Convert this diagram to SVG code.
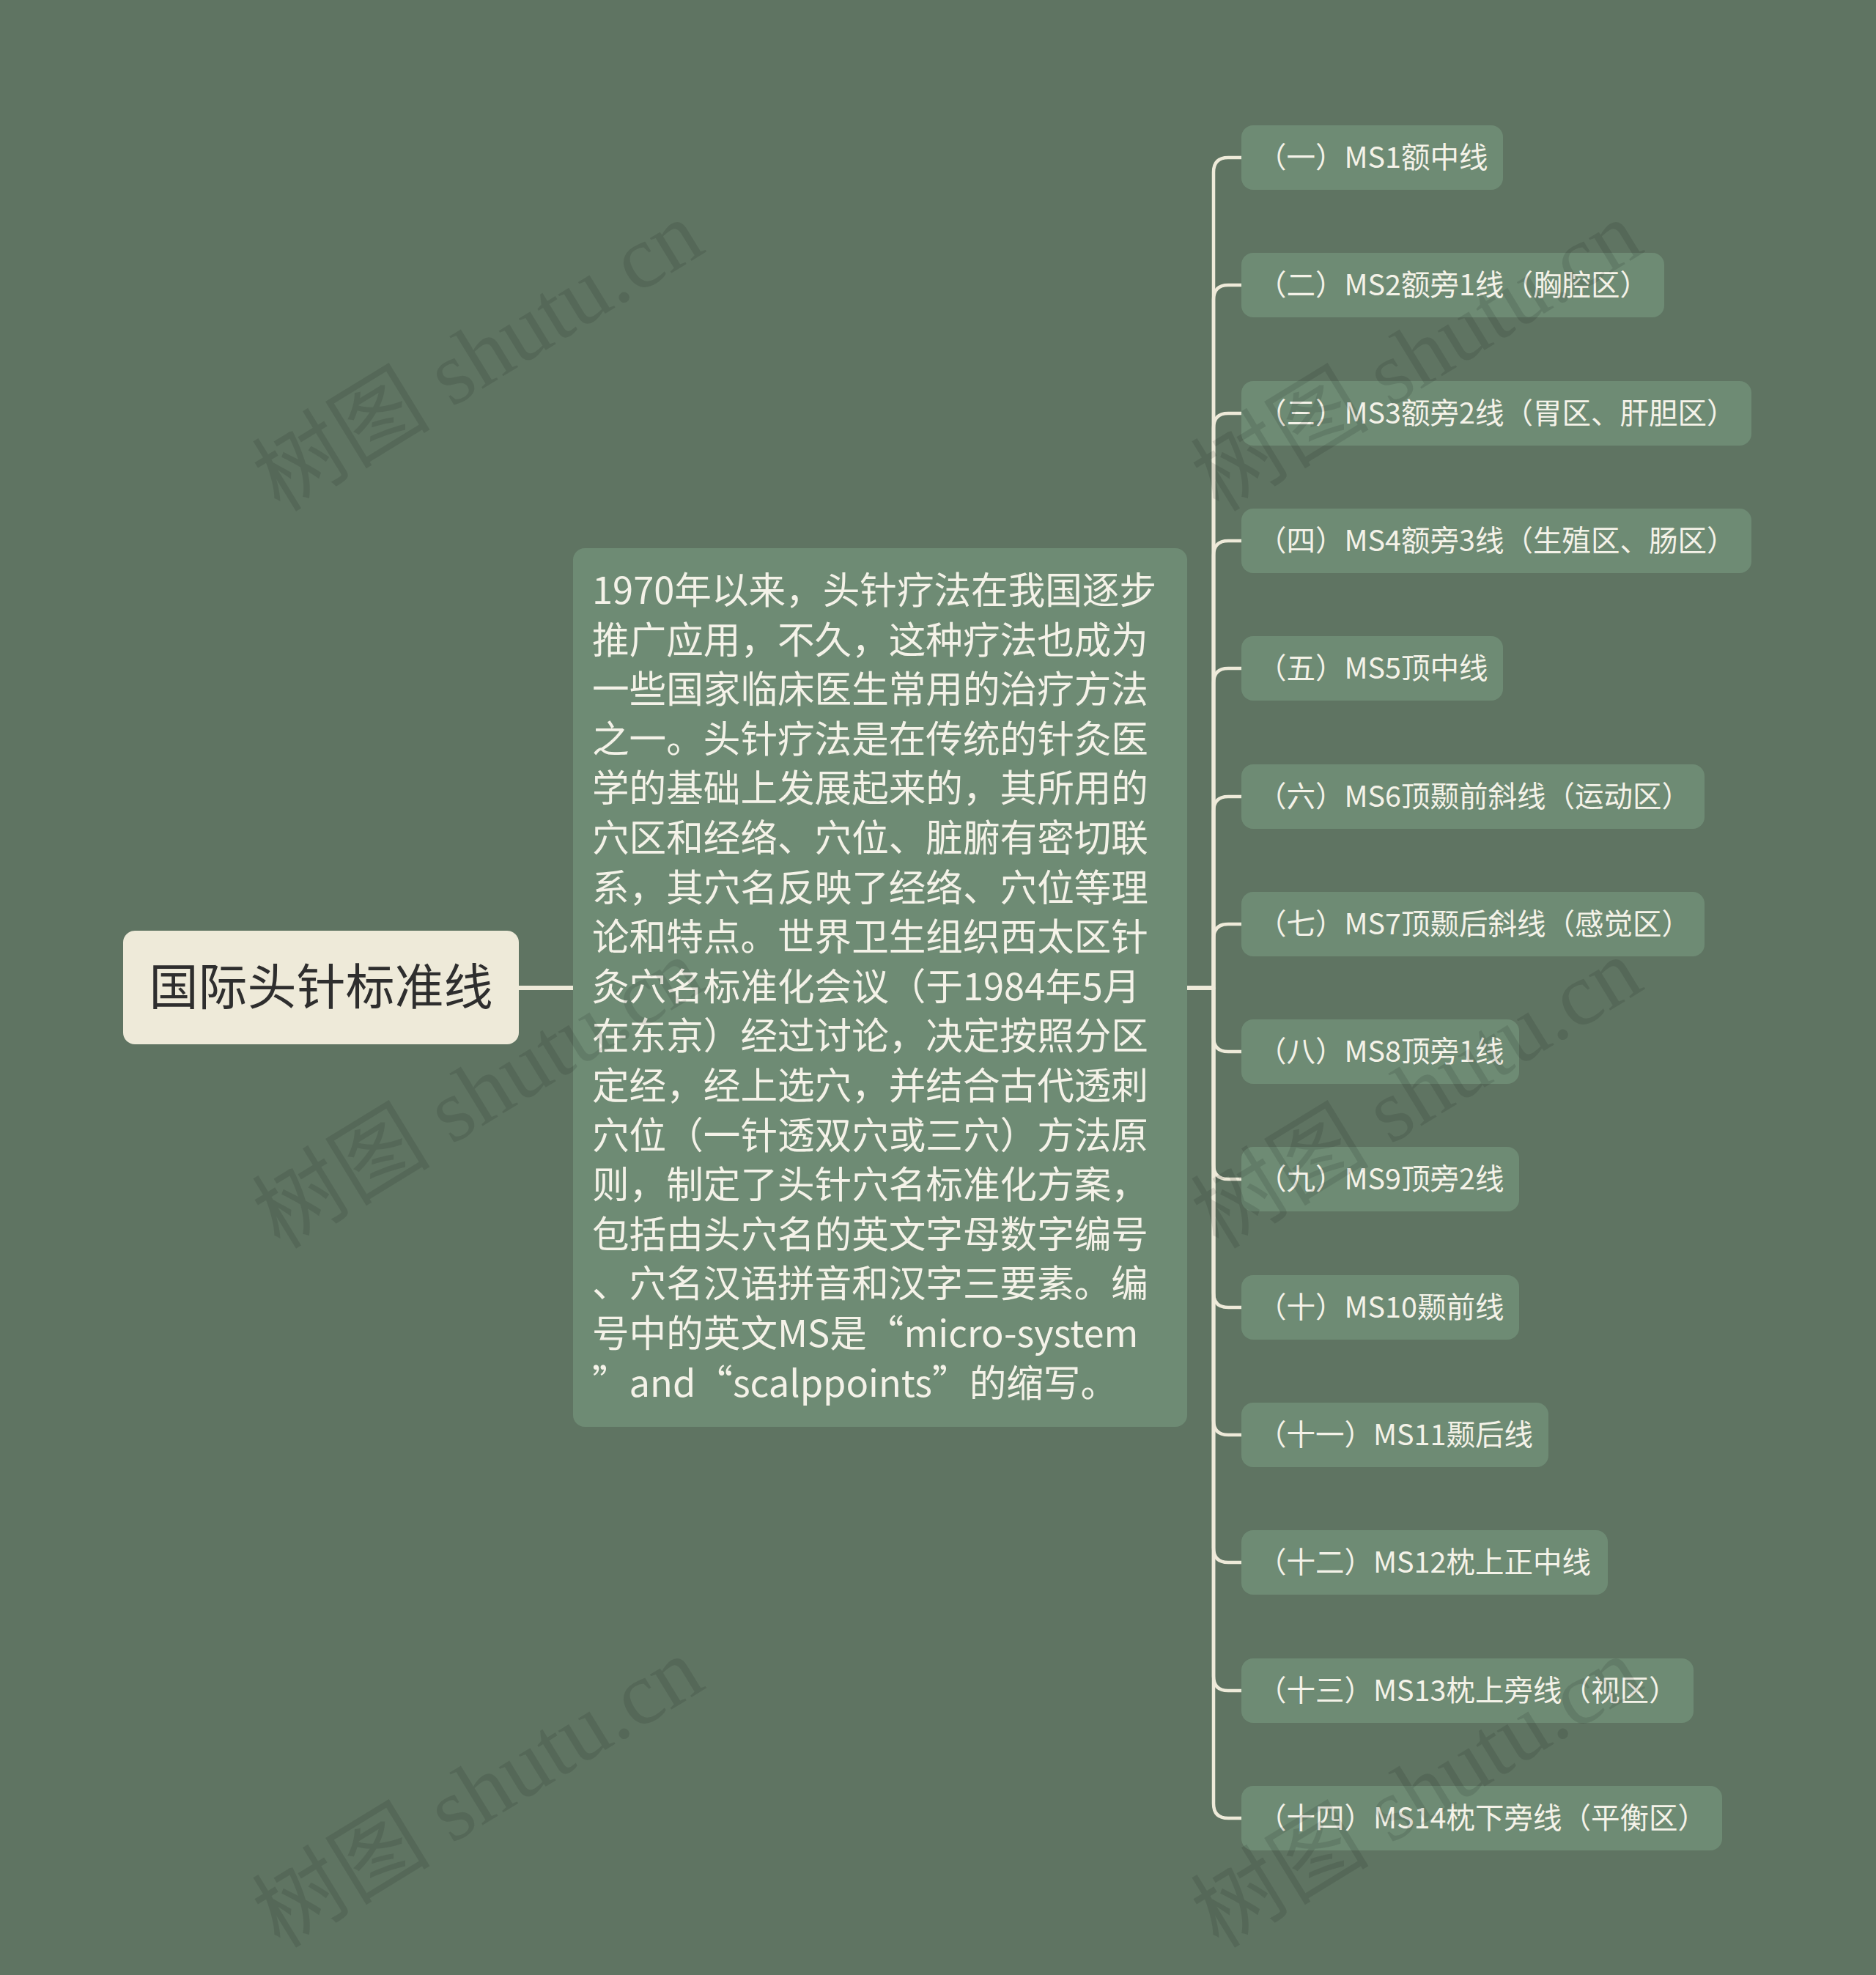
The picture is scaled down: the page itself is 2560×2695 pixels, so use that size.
<svg xmlns="http://www.w3.org/2000/svg" width="2560" height="2695" viewBox="0 0 2560 2695">
<style>
.bg{fill:#5f7462}
.node{fill:#6e8b74}
.root{fill:#eeead9}
.conn{fill:none;stroke:#eeead9;stroke-width:4.5;stroke-linecap:round;stroke-linejoin:round}
.t{font-family:"Noto Sans CJK SC","Noto Sans",sans-serif;fill:#f4f2e8}
.ct{font-size:50.6px}
.kt{font-size:39.5px}
.rt{font-family:"Noto Sans CJK SC","Noto Sans",sans-serif;font-size:67px;fill:#2e2e2e;text-anchor:middle}
.wm{font-family:"Liberation Serif","Noto Sans CJK SC",serif;font-size:122px;fill:#000;fill-opacity:0.1}
</style>
<rect class="bg" x="0" y="0" width="2560" height="2695"/>
<g id="connectors">
<path class="conn" style="stroke-width:6" d="M708 1348 H782"/>
<path class="conn" d="M1620 1348 H1656 V235 Q1656 215 1676 215 H1694"/>
<path class="conn" d="M1620 1348 H1656 V409 Q1656 389 1676 389 H1694"/>
<path class="conn" d="M1620 1348 H1656 V584 Q1656 564 1676 564 H1694"/>
<path class="conn" d="M1620 1348 H1656 V758 Q1656 738 1676 738 H1694"/>
<path class="conn" d="M1620 1348 H1656 V932 Q1656 912 1676 912 H1694"/>
<path class="conn" d="M1620 1348 H1656 V1107 Q1656 1087 1676 1087 H1694"/>
<path class="conn" d="M1620 1348 H1656 V1281 Q1656 1261 1676 1261 H1694"/>
<path class="conn" d="M1620 1348 H1656 V1415 Q1656 1435 1676 1435 H1694"/>
<path class="conn" d="M1620 1348 H1656 V1589 Q1656 1609 1676 1609 H1694"/>
<path class="conn" d="M1620 1348 H1656 V1764 Q1656 1784 1676 1784 H1694"/>
<path class="conn" d="M1620 1348 H1656 V1938 Q1656 1958 1676 1958 H1694"/>
<path class="conn" d="M1620 1348 H1656 V2112 Q1656 2132 1676 2132 H1694"/>
<path class="conn" d="M1620 1348 H1656 V2287 Q1656 2307 1676 2307 H1694"/>
<path class="conn" d="M1620 1348 H1656 V2461 Q1656 2481 1676 2481 H1694"/>
</g>
<g id="root">
<rect class="root" x="168" y="1270" width="540" height="155" rx="16"/>
<text class="rt" x="438" y="1371">国际头针标准线</text>
</g>
<g id="center">
<rect class="node" x="782" y="748" width="838" height="1199" rx="16"/>
<text class="t ct">
<tspan x="808" y="824">1970年以来，头针疗法在我国逐步</tspan>
<tspan x="808" y="891.6">推广应用，不久，这种疗法也成为</tspan>
<tspan x="808" y="959.2">一些国家临床医生常用的治疗方法</tspan>
<tspan x="808" y="1026.8">之一。头针疗法是在传统的针灸医</tspan>
<tspan x="808" y="1094.4">学的基础上发展起来的，其所用的</tspan>
<tspan x="808" y="1162">穴区和经络、穴位、脏腑有密切联</tspan>
<tspan x="808" y="1229.6">系，其穴名反映了经络、穴位等理</tspan>
<tspan x="808" y="1297.2">论和特点。世界卫生组织西太区针</tspan>
<tspan x="808" y="1364.8">灸穴名标准化会议（于1984年5月</tspan>
<tspan x="808" y="1432.4">在东京）经过讨论，决定按照分区</tspan>
<tspan x="808" y="1500">定经，经上选穴，并结合古代透刺</tspan>
<tspan x="808" y="1567.6">穴位（一针透双穴或三穴）方法原</tspan>
<tspan x="808" y="1635.2">则，制定了头针穴名标准化方案，</tspan>
<tspan x="808" y="1702.8">包括由头穴名的英文字母数字编号</tspan>
<tspan x="808" y="1770.4">、穴名汉语拼音和汉字三要素。编</tspan>
<tspan x="808" y="1838">号中的英文MS是“micro-system</tspan>
<tspan x="808" y="1905.6">”and“scalppoints”的缩写。</tspan>
</text>
</g>
<g id="c1"><rect class="node" x="1694" y="171" width="357" height="88" rx="16"/><text class="t kt" x="1716" y="229">（一）MS1额中线</text></g>
<g id="c2"><rect class="node" x="1694" y="345" width="577" height="88" rx="16"/><text class="t kt" x="1716" y="403">（二）MS2额旁1线（胸腔区）</text></g>
<g id="c3"><rect class="node" x="1694" y="520" width="696" height="88" rx="16"/><text class="t kt" x="1716" y="578">（三）MS3额旁2线（胃区、肝胆区）</text></g>
<g id="c4"><rect class="node" x="1694" y="694" width="696" height="88" rx="16"/><text class="t kt" x="1716" y="752">（四）MS4额旁3线（生殖区、肠区）</text></g>
<g id="c5"><rect class="node" x="1694" y="868" width="357" height="88" rx="16"/><text class="t kt" x="1716" y="926">（五）MS5顶中线</text></g>
<g id="c6"><rect class="node" x="1694" y="1043" width="632" height="88" rx="16"/><text class="t kt" x="1716" y="1101">（六）MS6顶颞前斜线（运动区）</text></g>
<g id="c7"><rect class="node" x="1694" y="1217" width="632" height="88" rx="16"/><text class="t kt" x="1716" y="1275">（七）MS7顶颞后斜线（感觉区）</text></g>
<g id="c8"><rect class="node" x="1694" y="1391" width="379" height="88" rx="16"/><text class="t kt" x="1716" y="1449">（八）MS8顶旁1线</text></g>
<g id="c9"><rect class="node" x="1694" y="1565" width="379" height="88" rx="16"/><text class="t kt" x="1716" y="1623">（九）MS9顶旁2线</text></g>
<g id="c10"><rect class="node" x="1694" y="1740" width="379" height="88" rx="16"/><text class="t kt" x="1716" y="1798">（十）MS10颞前线</text></g>
<g id="c11"><rect class="node" x="1694" y="1914" width="419" height="88" rx="16"/><text class="t kt" x="1716" y="1972">（十一）MS11颞后线</text></g>
<g id="c12"><rect class="node" x="1694" y="2088" width="500" height="88" rx="16"/><text class="t kt" x="1716" y="2146">（十二）MS12枕上正中线</text></g>
<g id="c13"><rect class="node" x="1694" y="2263" width="617" height="88" rx="16"/><text class="t kt" x="1716" y="2321">（十三）MS13枕上旁线（视区）</text></g>
<g id="c14"><rect class="node" x="1694" y="2437" width="656" height="88" rx="16"/><text class="t kt" x="1716" y="2495">（十四）MS14枕下旁线（平衡区）</text></g>
<g id="watermarks">
<text class="wm" x="382" y="700" transform="rotate(-31.5 382 700)">树图 shutu.cn</text>
<text class="wm" x="382" y="1706" transform="rotate(-31.5 382 1706)">树图 shutu.cn</text>
<text class="wm" x="382" y="2660" transform="rotate(-31.5 382 2660)">树图 shutu.cn</text>
<text class="wm" x="1663" y="700" transform="rotate(-31.5 1663 700)">树图 shutu.cn</text>
<text class="wm" x="1663" y="1706" transform="rotate(-31.5 1663 1706)">树图 shutu.cn</text>
<text class="wm" x="1663" y="2660" transform="rotate(-31.5 1663 2660)">树图 shutu.cn</text>
</g>
</svg>
